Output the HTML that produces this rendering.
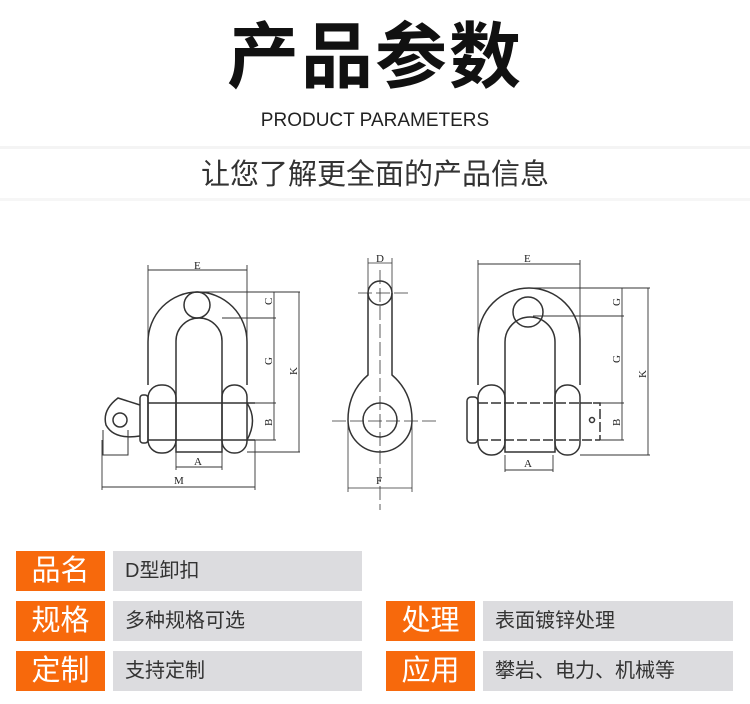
<!DOCTYPE html>
<html><head><meta charset="utf-8"><style>
body{margin:0;width:750px;height:704px;background:#fff;position:relative;overflow:hidden;font-family:"Liberation Sans","Noto Sans CJK SC",sans-serif}
.t{position:absolute;left:0;width:750px;text-align:center;color:#111}
.o{position:absolute;background:#f7690c;color:#fff;font-size:29px;line-height:40px;text-align:center;width:89px;height:40px}
.g{position:absolute;background:#dcdcdf;color:#333;font-size:20px;line-height:40px;padding-left:12px;box-sizing:border-box;height:40px}
</style></head><body>
<div class="t" style="top:18px;font-size:72px;font-weight:bold;line-height:80px;letter-spacing:2px">产品参数</div>
<div class="t" style="top:109px;font-size:19px;line-height:24px;color:#222">PRODUCT PARAMETERS</div>
<div style="position:absolute;left:0;top:146px;width:750px;height:3px;background:#f4f4f4"></div>
<div class="t" style="top:156px;font-size:29px;line-height:38px;color:#333">让您了解更全面的产品信息</div>
<div style="position:absolute;left:0;top:198px;width:750px;height:3px;background:#f6f6f6"></div>
<svg style="position:absolute;left:0;top:0" width="750" height="520" fill="none" stroke="#333" stroke-width="1.5" font-family="Liberation Serif" font-size="11">
<!-- left shackle -->
<g>
<path d="M148 385 V342 A49.5 50 0 0 1 247 342 V385"/>
<path d="M176 452 V341 A23 23 0 0 1 222 341 V452 Z"/>
<circle cx="197" cy="305" r="13"/>
<rect x="148" y="385" width="28" height="68" rx="13"/>
<rect x="222" y="385" width="25" height="68" rx="12"/>
<rect x="140" y="395" width="8" height="48" rx="3"/>
<path d="M148 403 H255 M148 440 H255 M247 403 Q258 420 247 440"/>
<path d="M140 405 L118 398 Q102 410 106 425 Q114 440 140 436"/>
<circle cx="120" cy="420" r="7"/>
<path d="M103 430 V455 H128 V430" stroke-width="1"/>
<g stroke-width="0.9">
<path d="M148 270 H247 M148 265 V385 M247 265 V385"/>
<path d="M197 292 H300 M222 318 H276 M247 403 H276 M255 440 H276 M247 452 H300"/>
<path d="M274 292 V440 M299 292 V452"/>
<path d="M176 467 H222 M176 452 V470 M222 452 V470"/>
<path d="M102 487 H255 M102 440 V490 M255 440 V490"/>
</g>
<g fill="#222" stroke="none">
<text x="194" y="269">E</text><text x="194" y="465">A</text><text x="174" y="484">M</text>
<text transform="translate(272 305) rotate(-90)">C</text>
<text transform="translate(272 365) rotate(-90)">G</text>
<text transform="translate(272 426) rotate(-90)">B</text>
<text transform="translate(297 375) rotate(-90)">K</text>
</g>
</g>
<!-- side view -->
<g>
<path d="M368 293 A12 12 0 0 1 392 293 V375 Q412 392 412 420 A32 32 0 0 1 348 420 Q348 392 368 375 Z"/>
<circle cx="380" cy="420" r="17"/>
<path d="M368 293 A12 12 0 0 0 392 293"/>
<g stroke-width="0.8">
<path d="M358 293 H410 M332 421 H440 M380 270 V510" stroke-dasharray="14 4"/>
<path d="M368 263 H392 M368 258 V293 M392 258 V293 M348 488 H412 M348 420 V492 M412 420 V492"/>
</g>
<g fill="#222" stroke="none"><text x="376" y="262">D</text><text x="376" y="484">F</text></g>
</g>
<!-- right shackle -->
<g>
<path d="M478 385 V339 A51 51 0 0 1 580 339 V385"/>
<path d="M505 452 V342 A25 25 0 0 1 555 342 V452 Z"/>
<circle cx="528" cy="312" r="15"/>
<rect x="478" y="385" width="27" height="70" rx="13"/>
<rect x="555" y="385" width="25" height="70" rx="12"/>
<rect x="467" y="397" width="11" height="46" rx="4"/>
<path d="M478 403 H600 M478 440 H600 M580 403 H600 V440" stroke-dasharray="10 3"/>
<circle cx="592" cy="420" r="2.5"/>
<g stroke-width="0.9">
<path d="M478 264 H580 M478 260 V385 M580 260 V385"/>
<path d="M528 288 H650 M533 316 H624 M600 403 H624 M600 440 H624 M580 455 H650"/>
<path d="M622 288 V440 M648 288 V455"/>
<path d="M505 470 H553 M505 455 V472 M553 455 V472"/>
</g>
<g fill="#222" stroke="none">
<text x="524" y="262">E</text><text x="524" y="467">A</text>
<text transform="translate(620 306) rotate(-90)">G</text>
<text transform="translate(620 363) rotate(-90)">G</text>
<text transform="translate(620 426) rotate(-90)">B</text>
<text transform="translate(646 378) rotate(-90)">K</text>
</g>
</g>
</svg>
<div class="o" style="left:16px;top:551px">品名</div><div class="g" style="left:113px;top:551px;width:249px">D型卸扣</div>
<div class="o" style="left:16px;top:601px">规格</div><div class="g" style="left:113px;top:601px;width:249px">多种规格可选</div>
<div class="o" style="left:16px;top:651px">定制</div><div class="g" style="left:113px;top:651px;width:249px">支持定制</div>
<div class="o" style="left:386px;top:601px">处理</div><div class="g" style="left:483px;top:601px;width:250px">表面镀锌处理</div>
<div class="o" style="left:386px;top:651px">应用</div><div class="g" style="left:483px;top:651px;width:250px">攀岩、电力、机械等</div>
</body></html>
